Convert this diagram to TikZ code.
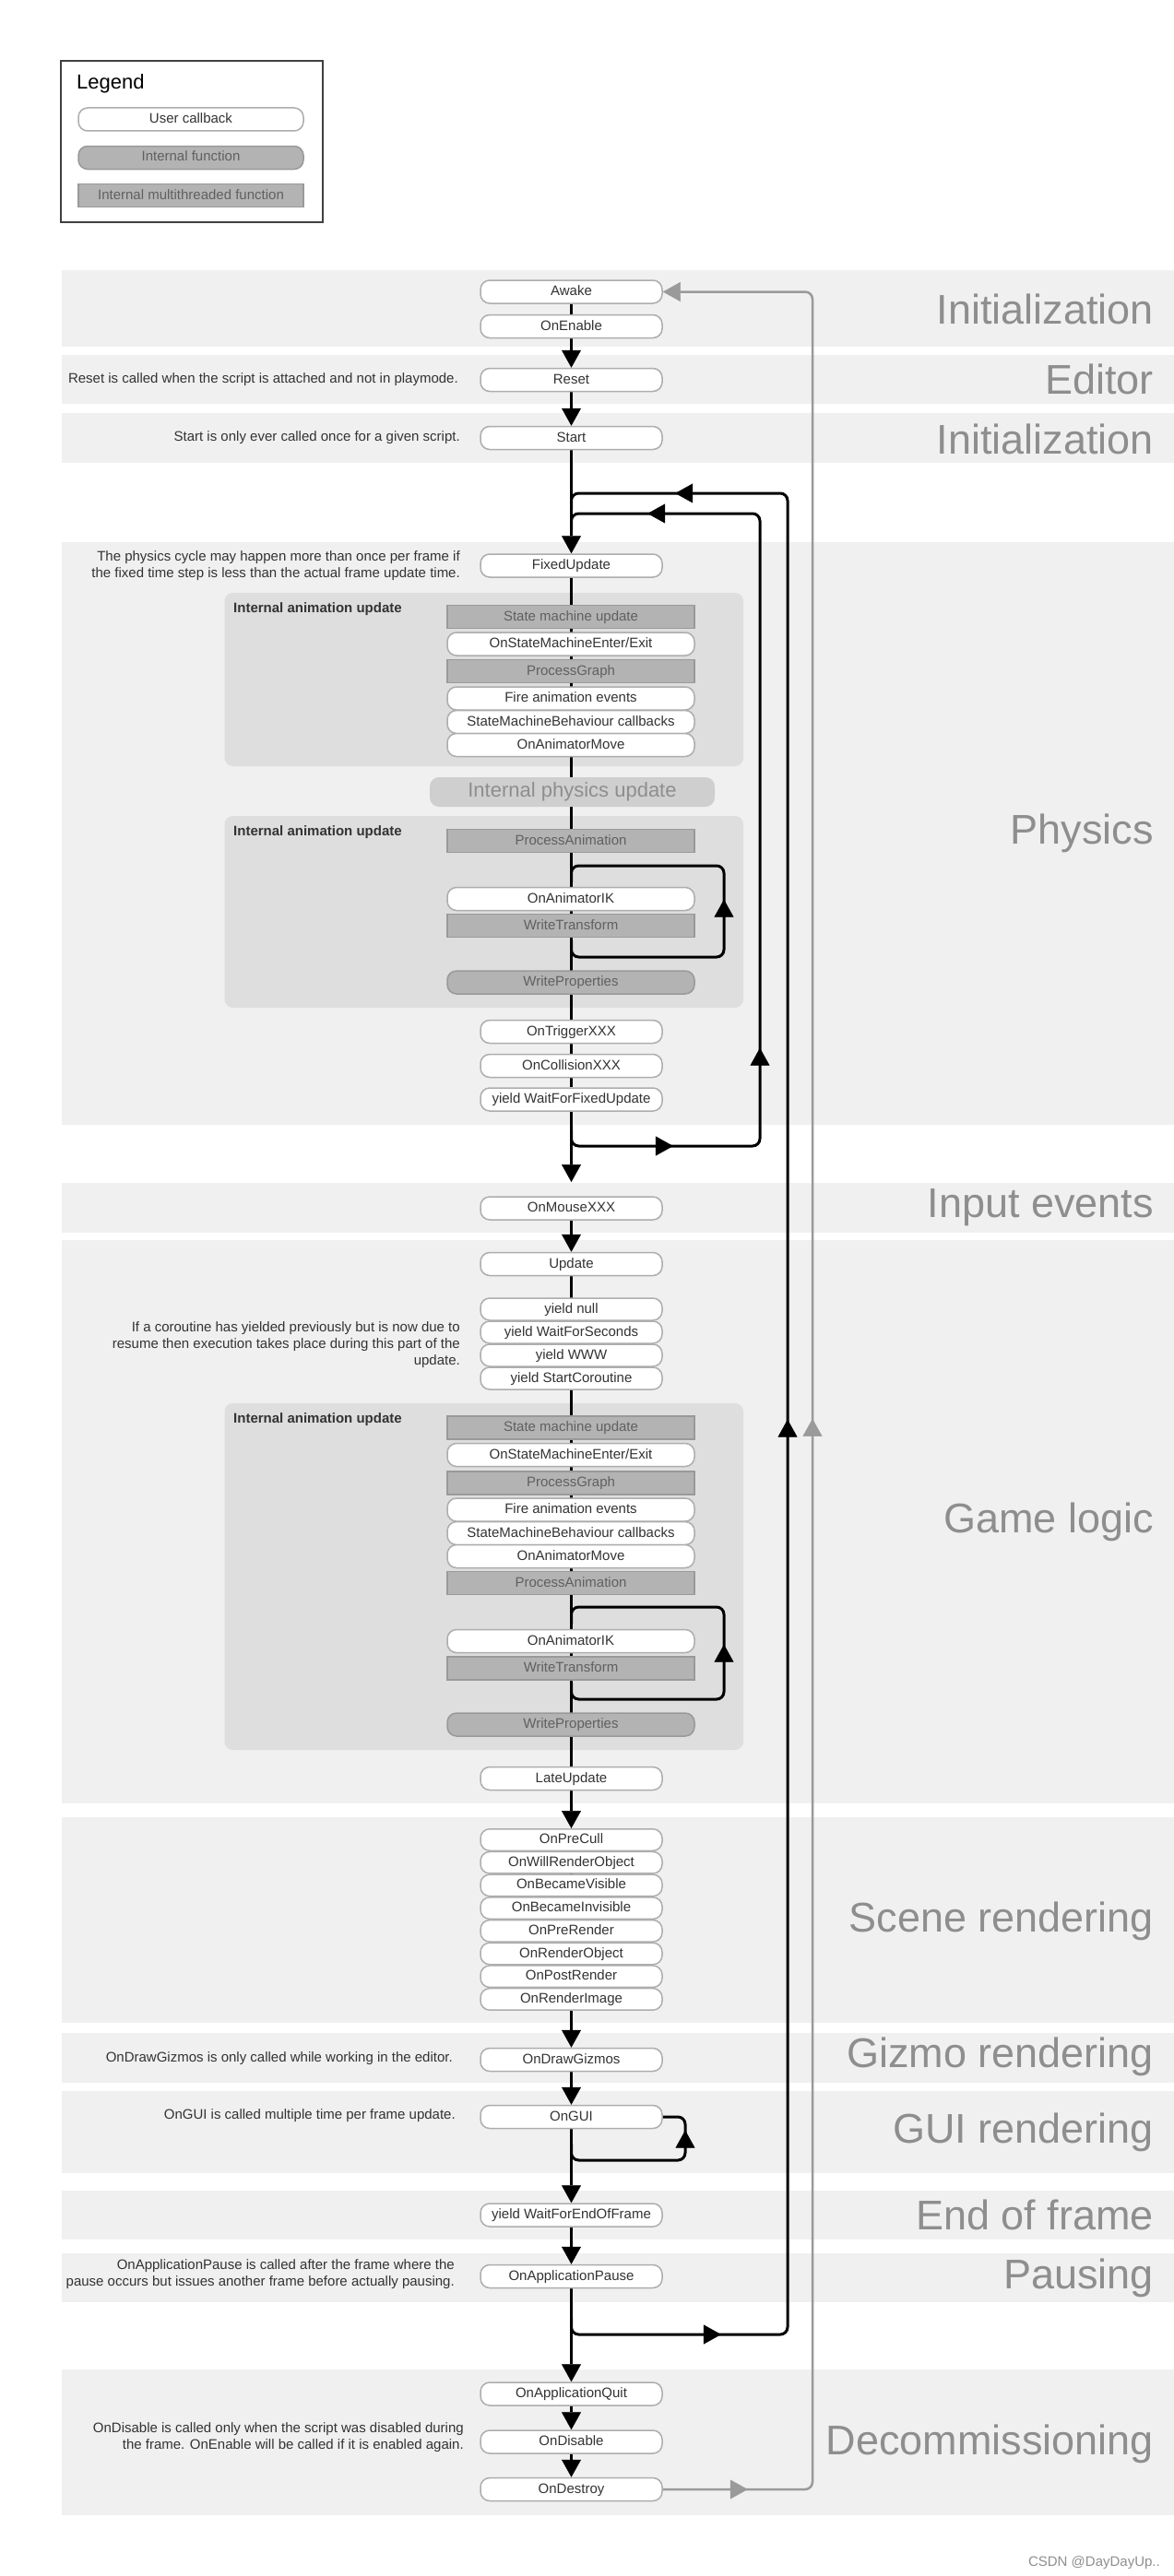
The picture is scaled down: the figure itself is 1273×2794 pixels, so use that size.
\documentclass[tikz,border=0pt]{standalone}
\usepackage{fontspec}
\setmainfont{Liberation Sans}
\usetikzlibrary{arrows.meta,decorations.markings}

\definecolor{bandgray}{HTML}{F0F0F0}
\definecolor{panelgray}{HTML}{DEDEDE}
\definecolor{boxline}{HTML}{ADADAD}
\definecolor{darkfill}{HTML}{B3B3B3}
\definecolor{darkline}{HTML}{999999}
\definecolor{darktext}{HTML}{606060}
\definecolor{bodytext}{HTML}{333333}
\definecolor{labelgray}{HTML}{8E8E8E}
\definecolor{returngray}{HTML}{9A9A9A}
\definecolor{physfill}{HTML}{CFCFCF}
\definecolor{legendline}{HTML}{404040}

\pgfdeclarelayer{bg}
\pgfdeclarelayer{wires}
\pgfsetlayers{bg,wires,main}

\newcommand\flowtip{\arrow{Triangle[length=19pt,width=21pt,line width=0.5pt]}}

\begin{document}
\begin{tikzpicture}[x=1pt,y=-1pt,
  txt/.style={font=\fontsize{15}{18}\selectfont},
  callback/.style={txt, draw=boxline, line width=1.5pt, fill=white, rounded corners=10pt,
    minimum width=197pt, minimum height=25pt, inner sep=0pt, text=bodytext,
    text height=11pt, text depth=3pt},
  internalfn/.style={callback, fill=darkfill, draw=darkline, text=darktext},
  threadfn/.style={internalfn, rounded corners=0pt},
  wide/.style={minimum width=268pt},
  stack/.style={minimum height=23.5pt},
  note/.style={txt, text=bodytext, anchor=east, align=right, inner sep=0pt},
  section/.style={font=\fontsize{45}{50}\selectfont, text=labelgray, anchor=base east, inner sep=0pt},
  panellabel/.style={font=\fontsize{15}{18}\selectfont\bfseries, text=bodytext, anchor=base west, inner sep=0pt},
  flowline/.style={line width=3pt, black},
  flowarrow/.style={flowline, -{Triangle[length=19pt,width=21pt,line width=0.5pt]}},
  loopline/.style={line width=3pt, black, rounded corners=8pt},
  returnline/.style={line width=2.5pt, color=returngray, rounded corners=8pt},
]
\useasboundingbox (0,0) rectangle (1273,2794);

% ---------- legend ----------
\node[draw=legendline, line width=2pt, fill=white, minimum width=284pt, minimum height=175pt, inner sep=0pt] (legend) at (208,153.5) {};
\node[anchor=base west, inner sep=0pt, font=\fontsize{22}{26}\selectfont] (legendtitle) at (83,97) {Legend};
\node[callback, minimum width=244pt] (lgcallback) at (207,129.5) {User callback};
\node[internalfn, minimum width=244pt] (lginternal) at (207,171) {Internal function};
\node[threadfn, minimum width=244pt] (lgthread) at (207,212) {Internal multithreaded function};

% ---------- phase bands and animation panels ----------
\begin{pgfonlayer}{bg}
  \fill[bandgray] (66.5,293) rectangle (1273,376);
  \fill[bandgray] (66.5,385) rectangle (1273,438);
  \fill[bandgray] (66.5,448) rectangle (1273,502);
  \fill[bandgray] (66.5,588) rectangle (1273,1220);
  \fill[bandgray] (66.5,1283) rectangle (1273,1337);
  \fill[bandgray] (66.5,1345) rectangle (1273,1956);
  \fill[bandgray] (66.5,1971) rectangle (1273,2194);
  \fill[bandgray] (66.5,2205) rectangle (1273,2259);
  \fill[bandgray] (66.5,2268) rectangle (1273,2357);
  \fill[bandgray] (66.5,2376) rectangle (1273,2429);
  \fill[bandgray] (66.5,2444) rectangle (1273,2497);
  \fill[bandgray] (66.5,2570) rectangle (1273,2728);
  \fill[panelgray, rounded corners=9pt] (243.5,643) rectangle (806,831);
  \fill[panelgray, rounded corners=9pt] (243.5,885) rectangle (806,1093);
  \fill[panelgray, rounded corners=9pt] (243.5,1522) rectangle (806,1898);
\end{pgfonlayer}

% ---------- phase titles ----------
\node[section] (tinit) at (1251,351) {Initialization};
\node[section] (teditor) at (1251,427) {Editor};
\node[section] (tinit2) at (1251,492) {Initialization};
\node[section] (tphysics) at (1251,915) {Physics};
\node[section] (tinput) at (1251,1320) {Input events};
\node[section] (tgame) at (1251,1662) {Game logic};
\node[section] (tscene) at (1251,2095) {Scene rendering};
\node[section] (tgizmo) at (1251,2242) {Gizmo rendering};
\node[section] (tgui) at (1251,2324) {GUI rendering};
\node[section] (teof) at (1251,2418) {End of frame};
\node[section] (tpause) at (1251,2482) {Pausing};
\node[section] (tdecom) at (1251,2662) {Decommissioning};

% ---------- initialization / editor ----------
\node[callback] (awake) at (619.5,316.5) {Awake};
\node[callback] (onenable) at (619.5,354) {OnEnable};
\node[callback] (reset) at (619.5,412) {Reset};
\node[callback] (start) at (619.5,475) {Start};
\node[note] (resetnote) at (497,412) {Reset is called when the script is attached and not in playmode.};
\node[note] (startnote) at (499,475) {Start is only ever called once for a given script.};

% ---------- physics ----------
\node[callback] (fixedupdate) at (619.5,613.5) {FixedUpdate};
\node[note] (physnote) at (499,613.5) {The physics cycle may happen more than once per frame if\\the fixed time step is less than the actual frame update time.};
\node[panellabel] (pl1) at (253,664) {Internal animation update};
\node[threadfn, wide] (psm) at (619,669) {State machine update};
\node[callback, wide] (psmee) at (619,698.5) {OnStateMachineEnter/Exit};
\node[threadfn, wide] (ppg) at (619,728) {ProcessGraph};
\node[callback, wide] (pfire) at (619,757.5) {Fire animation events};
\node[callback, wide] (psmb) at (619,783) {StateMachineBehaviour callbacks};
\node[callback, wide] (pmove) at (619,808) {OnAnimatorMove};
\node[internalfn, draw=none, fill=physfill, minimum width=309pt, minimum height=32pt,
      font=\fontsize{22}{26}\selectfont, text=labelgray, text height=16pt, text depth=5pt] (physupd) at (620.5,859) {Internal physics update};
\node[panellabel] (pl2) at (253,906) {Internal animation update};
\node[threadfn, wide] (ppa) at (619,912) {ProcessAnimation};
\node[callback, wide] (pik) at (619,975) {OnAnimatorIK};
\node[threadfn, wide] (pwt) at (619,1004) {WriteTransform};
\node[internalfn, wide] (pwp) at (619,1065.5) {WriteProperties};
\node[callback] (trigger) at (619.5,1119) {OnTriggerXXX};
\node[callback] (collision) at (619.5,1156) {OnCollisionXXX};
\node[callback] (wffu) at (619.5,1192.5) {yield WaitForFixedUpdate};

% ---------- input / game logic ----------
\node[callback] (onmouse) at (619.5,1310.5) {OnMouseXXX};
\node[callback] (update) at (619.5,1371) {Update};
\node[callback, minimum height=24pt] (ynull) at (619.5,1420) {yield null};
\node[callback, minimum height=24pt] (ywfs) at (619.5,1445) {yield WaitForSeconds};
\node[callback, minimum height=24pt] (ywww) at (619.5,1470) {yield WWW};
\node[callback, minimum height=24pt] (ysc) at (619.5,1495) {yield StartCoroutine};
\node[note] (conote) at (499,1459) {If a coroutine has yielded previously but is now due to\\resume then execution takes place during this part of the\\update.};
\node[panellabel] (gl1) at (253,1543) {Internal animation update};
\node[threadfn, wide] (gsm) at (619,1548.5) {State machine update};
\node[callback, wide] (gsmee) at (619,1578) {OnStateMachineEnter/Exit};
\node[threadfn, wide] (gpg) at (619,1608.5) {ProcessGraph};
\node[callback, wide] (gfire) at (619,1637.5) {Fire animation events};
\node[callback, wide] (gsmb) at (619,1663) {StateMachineBehaviour callbacks};
\node[callback, wide] (gmove) at (619,1688) {OnAnimatorMove};
\node[threadfn, wide] (gpa) at (619,1717) {ProcessAnimation};
\node[callback, wide] (gik) at (619,1780) {OnAnimatorIK};
\node[threadfn, wide] (gwt) at (619,1809.5) {WriteTransform};
\node[internalfn, wide] (gwp) at (619,1870.5) {WriteProperties};
\node[callback] (lateupdate) at (619.5,1929) {LateUpdate};

% ---------- scene rendering ----------
\node[callback, stack] (precull) at (619.5,1995.5) {OnPreCull};
\node[callback, stack] (willrender) at (619.5,2020.2) {OnWillRenderObject};
\node[callback, stack] (visible) at (619.5,2044.9) {OnBecameVisible};
\node[callback, stack] (invisible) at (619.5,2069.6) {OnBecameInvisible};
\node[callback, stack] (prerender) at (619.5,2094.3) {OnPreRender};
\node[callback, stack] (renderobj) at (619.5,2119) {OnRenderObject};
\node[callback, stack] (postrender) at (619.5,2143.7) {OnPostRender};
\node[callback, stack] (renderimg) at (619.5,2168.4) {OnRenderImage};

% ---------- gizmos, GUI, end of frame, pausing ----------
\node[callback] (gizmos) at (619.5,2234) {OnDrawGizmos};
\node[note] (gizmonote) at (491,2233) {OnDrawGizmos is only called while working in the editor.};
\node[callback] (ongui) at (619.5,2296) {OnGUI};
\node[note] (guinote) at (494,2295) {OnGUI is called multiple time per frame update.};
\node[callback] (wfeof) at (619.5,2402.5) {yield WaitForEndOfFrame};
\node[callback] (apppause) at (619.5,2469) {OnApplicationPause};
\node[note] (pausenote) at (493,2467) {OnApplicationPause is called after the frame where the\\pause occurs but issues another frame before actually pausing.};

% ---------- decommissioning ----------
\node[callback] (appquit) at (619.5,2596.5) {OnApplicationQuit};
\node[callback] (ondisable) at (619.5,2648.5) {OnDisable};
\node[callback] (ondestroy) at (619.5,2700) {OnDestroy};
\node[note] (disablenote) at (503,2644) {OnDisable is called only when the script was disabled during\\the frame. OnEnable will be called if it is enabled again.};

\node[anchor=base east, inner sep=0pt, font=\fontsize{15}{18}\selectfont, text=labelgray] (credit) at (1258,2783) {CSDN @DayDayUp..};

% ---------- loop corner points ----------
\coordinate (inputentry) at (619.5,1282);
\coordinate (fixA) at (619.5,1225);  \coordinate (fixB) at (619.5,1243);
\coordinate (fixC) at (824,1243);    \coordinate (fixD) at (824,557);
\coordinate (fixE) at (619.5,557);   \coordinate (fixF) at (619.5,575);
\coordinate (frameA) at (619.5,2514); \coordinate (frameB) at (619.5,2532);
\coordinate (frameC) at (854,2532);   \coordinate (frameD) at (854,535);
\coordinate (frameE) at (619.5,535);  \coordinate (frameF) at (619.5,553);
\coordinate (ikA) at (619.5,1020); \coordinate (ikB) at (619.5,1038);
\coordinate (ikC) at (785,1038);   \coordinate (ikD) at (785,939);
\coordinate (ikE) at (619.5,939);  \coordinate (ikF) at (619.5,957);
\coordinate (gikA) at (619.5,1825); \coordinate (gikB) at (619.5,1843);
\coordinate (gikC) at (785,1843);   \coordinate (gikD) at (785,1743);
\coordinate (gikE) at (619.5,1743); \coordinate (gikF) at (619.5,1761);
\coordinate (guiA) at (619.5,2325); \coordinate (guiB) at (619.5,2343);
\coordinate (guiC) at (743,2343);
\coordinate (retcol) at (881,0);

\begin{pgfonlayer}{wires}
  % main flow
  \draw[flowline] (awake) -- (onenable);
  \draw[flowarrow] (onenable) -- (reset);
  \draw[flowarrow] (reset) -- (start);
  \draw[flowarrow] (start) -- (fixedupdate);
  \draw[flowline] (fixedupdate) -- (wffu);
  \draw[flowarrow] (wffu) -- (inputentry);
  \draw[flowarrow] (onmouse) -- (update);
  \draw[flowline] (update) -- (lateupdate);
  \draw[flowarrow] (lateupdate) -- (precull);
  \draw[flowline] (precull) -- (renderimg);
  \draw[flowarrow] (renderimg) -- (gizmos);
  \draw[flowarrow] (gizmos) -- (ongui);
  \draw[flowarrow] (ongui) -- (wfeof);
  \draw[flowarrow] (wfeof) -- (apppause);
  \draw[flowarrow] (apppause) -- (appquit);
  \draw[flowarrow] (appquit) -- (ondisable);
  \draw[flowarrow] (ondisable) -- (ondestroy);

  % fixed-update loop
  \draw[loopline, decoration={markings,
      mark=at position 125pt with {\flowtip},
      mark=at position 322pt with {\flowtip},
      mark=at position 1020pt with {\flowtip}}, postaction={decorate}]
    (fixA) -- (fixB) -- (fixC) -- (fixD) -- (fixE) -- (fixF);

  % frame loop
  \draw[loopline, decoration={markings,
      mark=at position 177pt with {\flowtip},
      mark=at position 1238pt with {\flowtip},
      mark=at position 2361pt with {\flowtip}}, postaction={decorate}]
    (frameA) -- (frameB) -- (frameC) -- (frameD) -- (frameE) -- (frameF);

  % IK loops
  \draw[loopline, decoration={markings, mark=at position 239pt with {\flowtip}}, postaction={decorate}]
    (ikA) -- (ikB) -- (ikC) -- (ikD) -- (ikE) -- (ikF);
  \draw[loopline, decoration={markings, mark=at position 236pt with {\flowtip}}, postaction={decorate}]
    (gikA) -- (gikB) -- (gikC) -- (gikD) -- (gikE) -- (gikF);

  % OnGUI repeat
  \draw[loopline, decoration={markings, mark=at position 167pt with {\flowtip}}, postaction={decorate}]
    (guiA) -- (guiB) -- (guiC) |- (ongui.east);

  % object lifetime return
  \draw[returnline, -{Triangle[length=19pt,width=21pt,line width=0.5pt]},
      decoration={markings,
      mark=at position 92pt with {\flowtip},
      mark=at position 1320pt with {\flowtip}}, postaction={decorate}]
    (ondestroy.east) -- (ondestroy.east -| retcol) -- (awake.east -| retcol) -- (awake.east);
\end{pgfonlayer}
\end{tikzpicture}
\end{document}
